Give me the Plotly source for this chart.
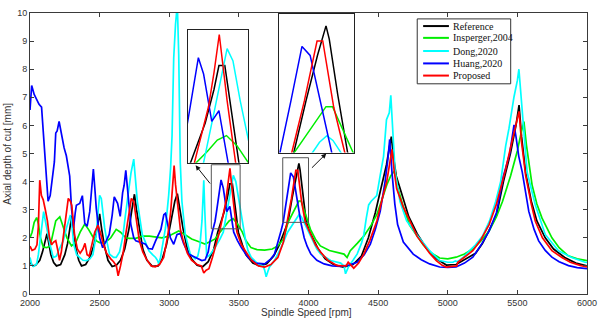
import plotly.graph_objects as go

# ---------------- data ----------------
series_names = ["Reference", "Insperger,2004", "Dong,2020", "Huang,2020", "Proposed"]

ref_x = [2000, 2020, 2040, 2070, 2090, 2110, 2122, 2135, 2150, 2170, 2190, 2220, 2250, 2270, 2290, 2300, 2312,
         2330, 2350, 2370, 2400, 2430, 2460, 2485, 2500, 2515, 2535, 2560, 2590, 2620, 2650, 2680, 2710, 2735,
         2750, 2765, 2785, 2810, 2840, 2880, 2920, 2950, 2980, 3010, 3040, 3058, 3075, 3100, 3130, 3160, 3200,
         3240, 3280, 3320, 3348, 3393, 3420, 3435, 3453, 3475, 3496, 3525, 3550, 3600, 3650, 3700, 3750,
         3790, 3825, 3852, 3882, 3910, 3931, 3939, 3960, 3984, 4010, 4040, 4070, 4120, 4180, 4250, 4320, 4380, 4430,
         4480, 4520, 4560, 4580, 4595, 4610, 4630, 4680, 4720, 4780, 4850, 4920, 4990, 5060, 5120, 5200, 5250,
         5300, 5350, 5400, 5450, 5490, 5512, 5530, 5560, 5600, 5640, 5700, 5760, 5840, 5920, 6000]
ref_y = [1.12, 1.0, 1.02, 1.2, 1.5, 1.9, 2.15, 1.8, 1.4, 1.12, 1.0, 1.05, 1.4, 1.8, 2.5, 2.78, 2.3,
         1.6, 1.2, 1.0, 1.05, 1.3, 1.75, 2.4, 2.85, 2.3, 1.7, 1.2, 0.98, 1.02, 1.2, 1.6, 2.3, 3.1,
         3.55, 3.0, 2.3, 1.6, 1.2, 0.98, 1.0, 1.25, 1.75, 2.5, 3.3, 3.57, 3.0, 2.3, 1.6, 1.25, 1.02,
         0.97, 1.15, 1.6, 2.2, 2.9, 3.5, 3.92, 3.92, 3.0, 2.2, 1.75, 1.4, 1.1, 1.0, 1.08, 1.35,
         1.75, 2.2, 2.55, 3.41, 4.16, 4.65, 4.43, 3.5, 2.55, 2.2, 1.9, 1.6, 1.25, 1.05, 0.96, 1.05, 1.35, 2.0,
         2.9, 3.7, 4.6, 5.2, 5.6, 4.9, 4.2, 3.4, 2.75, 2.15, 1.6, 1.25, 1.03, 1.05, 1.22, 1.45, 1.8,
         2.3, 2.8, 4.0, 5.0, 6.0, 6.72, 5.6, 4.3, 3.3, 2.6, 2.0, 1.6, 1.3, 1.1, 1.0]

ins_x = [2000, 2015, 2030, 2048, 2060, 2075, 2095, 2120, 2145, 2165, 2185, 2214, 2240, 2265, 2298, 2330, 2360,
         2393, 2420, 2450, 2480, 2500, 2540, 2580, 2619, 2650, 2688, 2714, 2760, 2805, 2857, 2900, 2947, 2990,
         3030, 3068, 3100, 3161, 3214, 3257, 3302, 3329, 3357, 3400, 3430, 3458, 3490, 3525, 3550, 3587, 3630,
         3685, 3740, 3779, 3820, 3853, 3918, 3931, 3947, 4000, 4014, 4050, 4085, 4150, 4206, 4255,
         4277, 4300, 4350, 4397, 4450, 4491, 4530, 4562, 4590, 4620, 4640, 4681, 4726, 4776, 4823, 4870, 4942,
         5000, 5060, 5120, 5180, 5240, 5297, 5350, 5393, 5452, 5500, 5530, 5547, 5565, 5590, 5606, 5640, 5677,
         5748, 5800, 5865, 5930, 6000]
ins_y = [2.0, 2.2, 2.55, 2.72, 2.5, 2.0, 1.67, 1.65, 1.7, 2.1, 2.6, 2.75, 2.4, 2.0, 1.71, 1.85, 2.2,
         2.49, 2.3, 2.05, 1.88, 1.83, 1.83, 2.0, 2.3, 2.2, 2.0, 1.98, 1.98, 2.06, 2.06, 2.03, 2.0, 2.05,
         2.15, 2.24, 2.15, 1.96, 1.86, 1.78, 1.89, 1.96, 2.15, 2.4, 2.6, 2.68, 2.5, 2.2, 1.9, 1.65, 1.58,
         1.56, 1.6, 1.71, 1.95, 2.55, 3.19, 3.31, 3.31, 2.55, 2.3, 1.95, 1.71, 1.55, 1.48, 1.42,
         1.30, 1.54, 1.8, 2.06, 2.45, 2.83, 3.4, 3.88, 4.2, 4.4, 3.8, 3.1, 2.45, 2.1, 1.75, 1.5, 1.28,
         1.25, 1.31, 1.42, 1.6, 1.9, 2.24, 2.75, 3.29, 4.22, 5.1, 5.8, 6.14, 5.3, 4.3, 3.87, 3.2, 2.7,
         2.0, 1.65, 1.36, 1.25, 1.19]

dong_x = [2000, 2012, 2024, 2048, 2060, 2071, 2085, 2098, 2110, 2119, 2143, 2167, 2190, 2210, 2238, 2262, 2290,
          2300, 2314, 2335, 2357, 2380, 2405, 2430, 2452, 2476, 2490, 2500, 2512, 2536, 2555, 2571, 2600, 2619,
          2643, 2667, 2685, 2702, 2725, 2745, 2760, 2771, 2806, 2830, 2854, 2880, 2902, 2915, 2925, 2937, 2949,
          2973, 2996, 3010, 3020, 3032, 3045, 3058, 3068, 3079, 3091, 3115, 3151, 3186, 3205, 3220, 3235, 3242,
          3248, 3255, 3262, 3269, 3293, 3329, 3364, 3388, 3424, 3460, 3478, 3500, 3525, 3545, 3565,
          3589, 3637, 3673, 3685, 3696, 3708, 3720, 3756, 3803, 3850, 3898, 3915, 3933, 3948, 3967, 3993, 4028, 4060,
          4088, 4159, 4231, 4255, 4266, 4278, 4290, 4320, 4349, 4380, 4397, 4415, 4432, 4450, 4468, 4490, 4515,
          4539, 4560, 4580, 4591, 4605, 4622, 4657, 4705, 4776, 4870, 4942, 5000, 5037, 5055, 5070, 5110, 5155,
          5200, 5250, 5300, 5345, 5380, 5416, 5440, 5476, 5500, 5511, 5520, 5535, 5550, 5570, 5629, 5700, 5795,
          5890, 5986, 6000]
dong_y = [1.3, 1.05, 0.98, 1.07, 1.4, 1.88, 2.5, 2.93, 2.6, 2.35, 1.77, 1.3, 1.35, 1.6, 1.88, 2.35, 2.81,
          2.5, 1.77, 1.4, 1.3, 1.2, 1.19, 1.25, 1.4, 2.12, 3.0, 3.51, 3.4, 2.35, 1.8, 1.42, 1.3, 1.3,
          1.5, 2.05, 2.8, 3.51, 4.3, 4.8, 3.8, 3.29, 2.12, 1.8, 1.54, 1.4, 1.3, 1.2, 1.07, 1.3, 1.65,
          2.35, 3.52, 4.5, 5.62, 8.4, 9.6, 10.3, 8.53, 4.69, 3.29, 2.12, 1.42, 1.25, 1.35, 1.7, 2.6, 3.5,
          4.05, 3.0, 1.8, 1.3, 1.4, 1.65, 1.95, 2.2, 3.2, 4.22, 4.0, 3.3, 2.61, 2.0, 1.55,
          1.3, 1.07, 1.0, 0.85, 0.61, 0.8, 0.96, 1.19, 1.65, 2.2, 2.55, 2.72, 2.83, 2.75, 2.55, 2.3, 1.89, 1.6,
          1.42, 1.19, 1.1, 1.0, 0.72, 0.85, 1.0, 1.2, 1.42, 1.8, 2.1, 2.7, 3.17, 3.3, 3.4, 3.5, 4.22,
          4.9, 6.2, 6.45, 7.07, 5.85, 4.34, 3.29, 2.6, 2.12, 1.54, 1.19, 1.13, 1.13, 1.18, 1.15, 1.3, 1.54,
          1.75, 2.06, 2.6, 3.3, 4.0, 5.27, 5.9, 7.02, 7.6, 8.0, 7.4, 6.67, 5.5, 4.34, 3.17, 2.12, 1.54,
          1.3, 1.13, 1.12]

huang_x = [2000, 2012, 2030, 2040, 2050, 2065, 2083, 2095, 2107, 2118, 2130, 2145, 2158, 2175, 2185, 2195, 2209,
           2226, 2245, 2261, 2275, 2285, 2298, 2313, 2325, 2333, 2357, 2376, 2393, 2410, 2429, 2445, 2455, 2465,
           2476, 2500, 2522, 2548, 2569, 2590, 2605, 2629, 2648, 2665, 2676, 2688, 2707, 2724, 2745, 2760, 2800,
           2830, 2850, 2878, 2902, 2925, 2940, 2961, 2973, 2988, 3008, 3032, 3056, 3079, 3103, 3139, 3186, 3234,
           3258, 3280, 3293, 3329, 3340, 3372, 3388, 3413, 3435, 3463, 3490, 3518, 3566, 3620,
           3685, 3730, 3756, 3780, 3803, 3818, 3845, 3872, 3892, 3945, 3969, 3990, 4017, 4060,
           4112, 4170, 4231, 4290, 4349, 4400, 4444, 4480, 4515, 4550, 4570, 4583, 4600, 4620, 4640, 4681, 4752,
           4810, 4870, 4942, 5000, 5060, 5120, 5180, 5240, 5297, 5350, 5400, 5445, 5476, 5490, 5510, 5535, 5560,
           5582, 5620, 5653, 5700, 5748, 5800, 5867, 5930, 6000]
huang_y = [6.55, 7.42, 7.1, 7.0, 6.85, 6.75, 6.65, 5.8, 5.0, 4.0, 3.3, 3.5, 4.0, 4.7, 5.73, 5.8, 6.14,
           5.62, 5.2, 4.92, 4.5, 4.2, 3.05, 2.35, 2.9, 3.16, 3.22, 3.5, 2.52, 2.41, 2.93, 3.9, 4.45, 3.8,
           3.05, 2.0, 1.65, 1.9, 2.12, 2.8, 3.46, 3.23, 2.76, 3.6, 3.87, 4.4, 3.29, 2.48, 2.0, 1.89, 1.83,
           1.77, 1.62, 1.6, 1.89, 2.12, 2.3, 2.82, 2.87, 2.5, 2.0, 1.77, 2.12, 2.15, 1.8, 1.42, 1.31, 1.19,
           1.22, 1.5, 1.89, 2.59, 2.95, 4.06, 3.77, 2.93, 3.12, 2.2, 1.9, 1.65, 1.3, 1.1,
           1.07, 1.25, 1.42, 1.8, 2.25, 2.55, 3.41, 4.31, 4.16, 2.55, 2.0, 1.7, 1.42, 1.2,
           1.07, 1.0, 0.98, 1.03, 1.13, 1.4, 1.77, 2.3, 2.94, 4.0, 4.8, 5.5, 4.3, 3.2, 2.47, 1.85, 1.42,
           1.22, 1.07, 0.96, 0.95, 0.96, 1.1, 1.31, 1.75, 2.24, 2.9, 4.2, 5.0, 6.02, 5.6, 4.9, 4.34, 3.5,
           2.94, 2.3, 1.89, 1.55, 1.31, 1.15, 1.01, 0.94, 0.9]

prop_x = [2000, 2015, 2035, 2050, 2060, 2070, 2082, 2095, 2110, 2125, 2140, 2155, 2170, 2185, 2200, 2212, 2225,
          2245, 2262, 2275, 2290, 2300, 2320, 2340, 2360, 2380, 2395, 2410, 2425, 2445, 2465, 2488, 2505, 2525,
          2550, 2580, 2600, 2620, 2633, 2650, 2670, 2690, 2710, 2728, 2745, 2760, 2785, 2810, 2835, 2870, 2900,
          2930, 2960, 2990, 3010, 3025, 3035, 3045, 3060, 3080, 3100, 3130, 3160, 3200, 3230, 3248, 3265, 3285,
          3310, 3340, 3360, 3403, 3420, 3436, 3460, 3486, 3518, 3550, 3590, 3640, 3685, 3730, 3780,
          3820, 3847, 3878, 3909, 3923, 3950, 3977, 4000, 4017, 4050, 4088, 4140, 4206, 4254, 4270, 4285,
          4300, 4325, 4360, 4397, 4440, 4491, 4530, 4562, 4585, 4600, 4615, 4633, 4680, 4728, 4780, 4823, 4870,
          4918, 4960, 4989, 5030, 5065, 5072, 5120, 5180, 5240, 5297, 5350, 5416, 5460, 5495, 5512, 5530, 5560,
          5600, 5629, 5680, 5748, 5820, 5880, 5950, 6000]
prop_y = [1.7, 1.55, 1.6, 1.75, 2.4, 4.05, 3.5, 3.35, 3.0, 2.6, 2.0, 1.75, 1.85, 1.9, 1.55, 1.2, 1.5,
          2.3, 2.9, 3.4, 3.3, 3.15, 2.1, 1.6, 1.45, 1.6, 1.8, 1.4, 1.35, 1.8, 2.2, 2.45, 2.2, 1.8,
          1.45, 1.25, 1.15, 1.0, 0.65, 1.0, 1.5, 2.2, 2.9, 3.4, 3.3, 2.7, 1.9, 1.5, 1.25, 1.0, 0.97,
          1.05, 1.3, 2.1, 2.9, 3.9, 4.57, 3.9, 3.1, 2.3, 1.9, 1.45, 1.2, 1.05, 1.0, 0.75, 0.85, 0.9,
          1.3, 1.8, 2.2, 3.19, 3.8, 4.47, 3.3, 2.2, 1.75, 1.5, 1.2, 1.0, 0.96, 1.05, 1.3,
          1.85, 2.55, 3.41, 4.40, 4.40, 3.3, 2.55, 2.3, 2.12, 1.75, 1.48, 1.2, 1.01, 1.0, 1.0, 1.13,
          1.05, 0.92, 1.1, 1.42, 1.9, 2.6, 3.4, 4.0, 4.7, 5.15, 4.4, 3.75, 3.1, 2.59, 2.05, 1.77, 1.45,
          1.19, 1.02, 0.96, 0.97, 1.0, 1.13, 1.3, 1.54, 1.95, 2.47, 3.2, 4.45, 5.4, 6.1, 6.5, 5.4, 4.2,
          3.2, 2.59, 2.0, 1.54, 1.3, 1.13, 1.02, 0.96]

x_ticks = [2000, 2500, 3000, 3500, 4000, 4500, 5000, 5500, 6000]
y_ticks = [0, 1, 2, 3, 4, 5, 6, 7, 8, 9, 10]

# zoom windows (data ranges shown by the insets)
zoom1_x = [3340, 3525]
zoom1_y = [2.2, 4.55]
zoom2_x = [3815, 4000]
zoom2_y = [2.55, 4.85]
# small marker rectangles drawn on the main axes
rect1_x = [3302, 3509]
rect1_y = [2.32, 4.6]
rect2_x = [3815, 4000]
rect2_y = [2.55, 4.85]

# ---------------- styling ----------------
colors = ["#000000", "#00ee00", "#00ffff", "#0000ff", "#ff0000"]
xs = [ref_x, ins_x, dong_x, huang_x, prop_x]
ys = [ref_y, ins_y, dong_y, huang_y, prop_y]

fig = go.Figure()
for axes, lw in [(("x", "y"), 1.7), (("x2", "y2"), 1.5), (("x3", "y3"), 1.5)]:
    for name, x, y, c in zip(series_names, xs, ys, colors):
        fig.add_trace(go.Scatter(x=x, y=y, mode="lines", name=name, showlegend=False,
                                 line=dict(color=c, width=lw),
                                 xaxis=axes[0], yaxis=axes[1], hoverinfo="skip"))

FONT = "Liberation Sans, Arial, sans-serif"
axis_common = dict(showline=True, linecolor="#3a3a3a", linewidth=1, mirror="ticks",
                   ticks="inside", ticklen=4, tickcolor="#3a3a3a", showgrid=False, zeroline=False,
                   tickfont=dict(family=FONT, size=9, color="#333"))
inset_common = dict(showticklabels=False, ticks="", showline=True, mirror=True, linecolor="#222",
                    linewidth=1, showgrid=False, zeroline=False)

fig.update_layout(
    width=605, height=321,
    margin=dict(l=30, r=13, t=8, b=27),
    paper_bgcolor="white", plot_bgcolor="white",
    xaxis=dict(range=[2000, 6000], tickvals=x_ticks, domain=[0, 1], **axis_common),
    yaxis=dict(range=[0, 10], tickvals=y_ticks, domain=[0, 1], **axis_common),
    xaxis2=dict(domain=[0.2835, 0.392], anchor="y2", range=zoom1_x, **inset_common),
    yaxis2=dict(domain=[0.4675, 0.9395], anchor="x2", range=zoom1_y, **inset_common),
    xaxis3=dict(domain=[0.4466, 0.5819], anchor="y3", range=zoom2_x, **inset_common),
    yaxis3=dict(domain=[0.5035, 0.997], anchor="x3", range=zoom2_y, **inset_common),
    showlegend=False,
)

# small rectangles on main axes
for rx, ry in [(rect1_x, rect1_y), (rect2_x, rect2_y)]:
    fig.add_shape(type="rect", xref="x", yref="y", x0=rx[0], x1=rx[1], y0=ry[0], y1=ry[1],
                  line=dict(color="#555", width=1), fillcolor="rgba(0,0,0,0)")

# arrows from rectangles to insets
fig.add_annotation(x=3189, y=4.58, ax=3302, ay=3.88, xref="x", yref="y", axref="x", ayref="y",
                   text="", showarrow=True, arrowhead=2, arrowsize=1, arrowwidth=1, arrowcolor="#111")
fig.add_annotation(x=4128, y=5.0, ax=4014, ay=4.44, xref="x", yref="y", axref="x", ayref="y",
                   text="", showarrow=True, arrowhead=2, arrowsize=1, arrowwidth=1, arrowcolor="#111")

# axis titles
fig.add_annotation(x=0.496, y=-0.066, xref="paper", yref="paper", text="Spindle Speed [rpm]",
                   showarrow=False, font=dict(family=FONT, size=10, color="#333"),
                   xanchor="center", yanchor="middle")
fig.add_annotation(x=-0.041, y=0.5, xref="paper", yref="paper", text="Axial depth of cut [mm]",
                   showarrow=False, textangle=-90, font=dict(family=FONT, size=10, color="#333"),
                   xanchor="center", yanchor="middle")

# manual legend
leg_x0, leg_x1, leg_y0, leg_y1 = 0.6952, 0.863, 0.748, 0.979
fig.add_shape(type="rect", xref="paper", yref="paper", x0=leg_x0, x1=leg_x1, y0=leg_y0, y1=leg_y1,
              line=dict(color="#333", width=1), fillcolor="white")
leg_rows = [0.9535, 0.9115, 0.8647, 0.8206, 0.7773]
for name, c, yy in zip(series_names, colors, leg_rows):
    fig.add_shape(type="line", xref="paper", yref="paper", x0=0.7058, x1=0.7521, y0=yy, y1=yy,
                  line=dict(color=c, width=2))
    fig.add_annotation(x=0.7562, y=yy, xref="paper", yref="paper", text=name, showarrow=False,
                       xanchor="left", yanchor="middle",
                       font=dict(family="Liberation Serif, Times New Roman, serif", size=10, color="#111"))

fig.write_html("out.html", config={"displayModeBar": False, "staticPlot": True},
               post_script="document.body.style.margin='0';document.body.style.overflow='hidden';")
